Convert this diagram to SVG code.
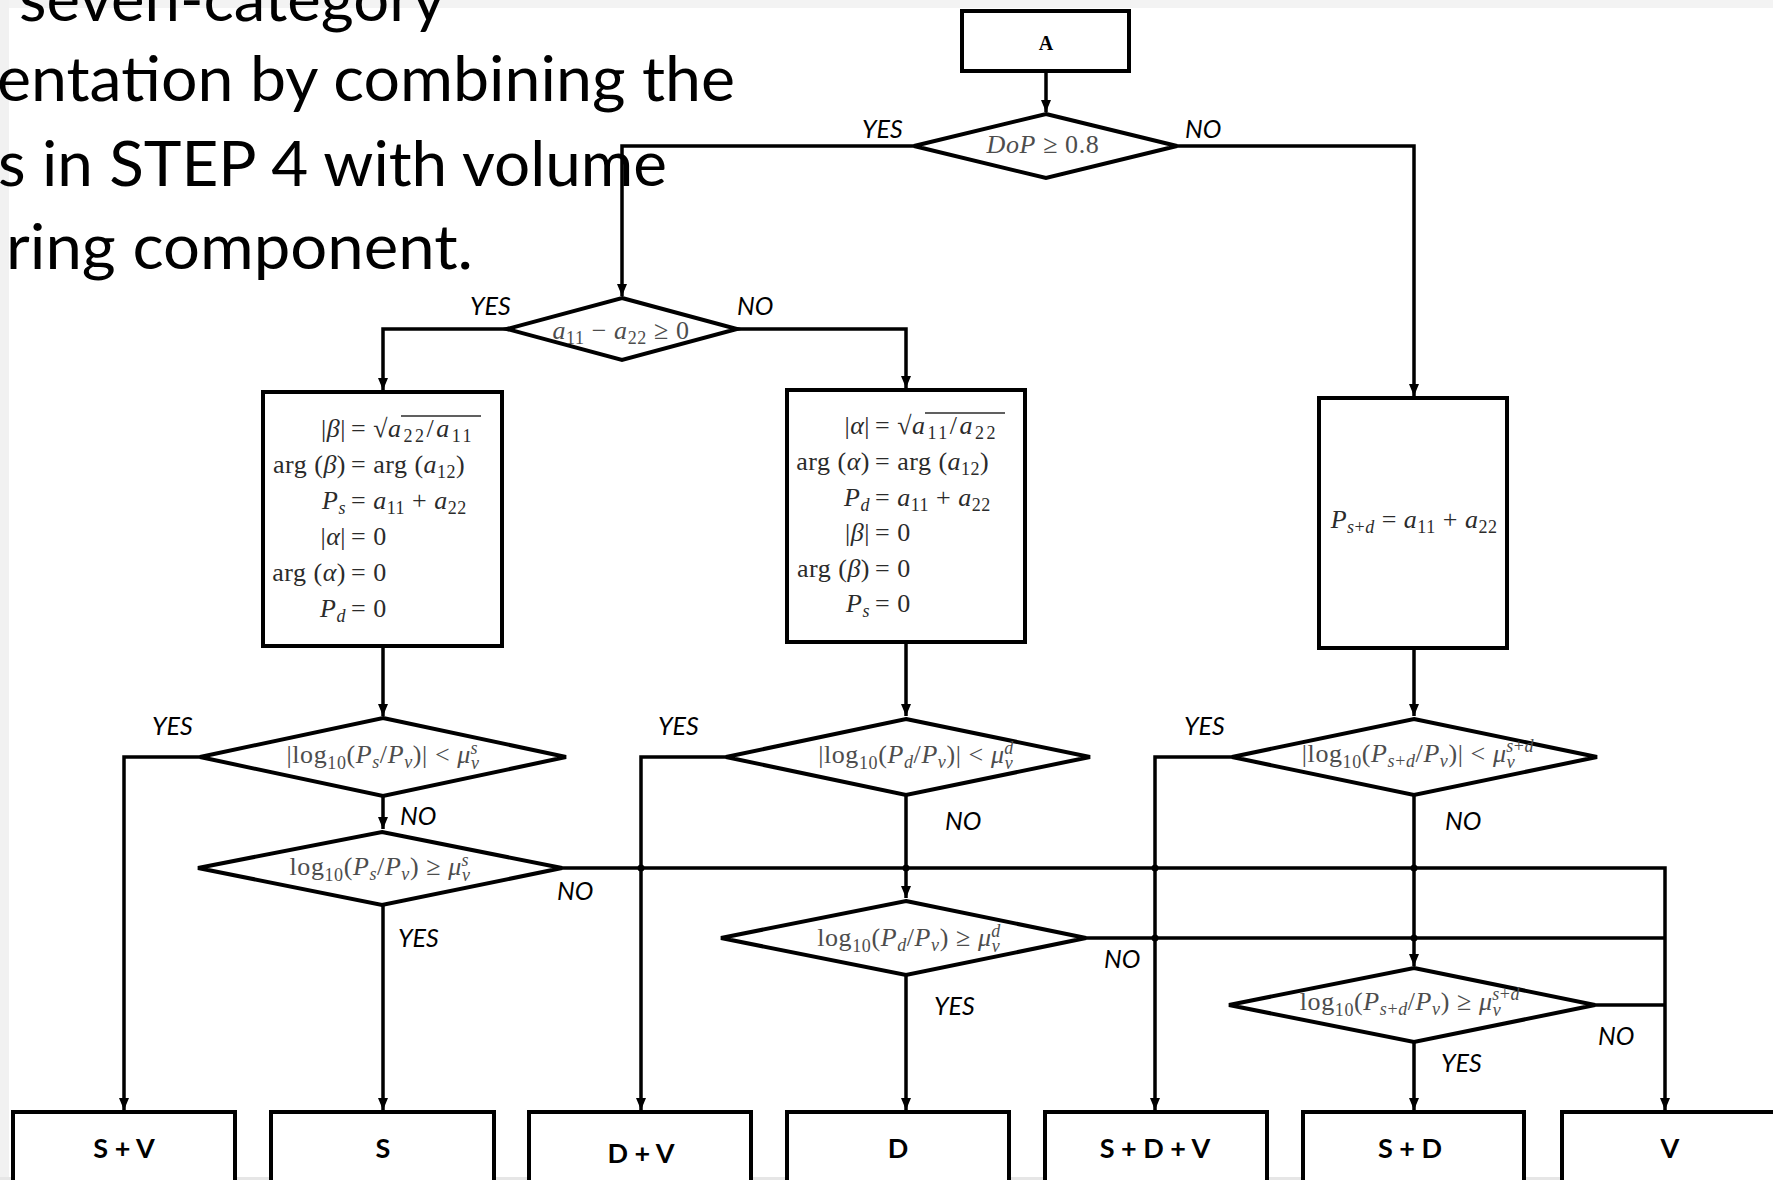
<svg xmlns="http://www.w3.org/2000/svg" width="1773" height="1180" viewBox="0 0 1773 1180">
<style>
.hd{font-family:Lato,"Open Sans",sans-serif;font-size:62px;fill:#000}
.box{fill:#fff;stroke:#000;stroke-width:4}
.dia{fill:#fff;stroke:#000;stroke-width:4;stroke-linejoin:miter}
.ln{fill:none;stroke:#000;stroke-width:3.5}
.ar{fill:none;stroke:#000;stroke-width:3.5;marker-end:url(#ah)}
.lab{font-family:Lato,"Open Sans",sans-serif;font-style:italic;font-size:25px;fill:#000}
.bl{font-family:Lato,"Open Sans",sans-serif;font-weight:bold;font-size:27px;fill:#000;text-anchor:middle}
.m{font-family:"Liberation Serif","Times New Roman",serif;font-size:26px;fill:#2b2b2b;letter-spacing:0.5px}
.md{font-family:"Liberation Serif","Times New Roman",serif;font-size:26px;fill:#4d4d4d;letter-spacing:0.6px}
.i{font-style:italic}
.sb{font-size:18px}
.dot{fill:#000}
</style>
<defs>
<marker id="ah" markerWidth="12" markerHeight="10" refX="12" refY="5" orient="auto" markerUnits="userSpaceOnUse">
<path d="M0,0 L12,5 L0,10 z" fill="#000"/>
</marker>
</defs>
<rect x="0" y="0" width="1773" height="1180" fill="#fff"/>
<rect x="0" y="0" width="1773" height="8" fill="#f3f3f3"/>
<rect x="0" y="0" width="9" height="1180" fill="#f1f1f1"/>
<rect x="0" y="1177" width="1773" height="3" fill="#e6e6e6"/>

<g id="header">
<text class="hd" x="19" y="21" textLength="426" lengthAdjust="spacingAndGlyphs">seven-category</text>
<text class="hd" x="-3" y="101" textLength="738" lengthAdjust="spacingAndGlyphs">entation by combining the</text>
<text class="hd" x="-2" y="186" textLength="669" lengthAdjust="spacingAndGlyphs">s in STEP 4 with volume</text>
<text class="hd" x="6" y="269" textLength="467" lengthAdjust="spacingAndGlyphs">ring component.</text>
</g>

<g id="connectors">
<path class="ar" d="M1046,71 V112"/>
<path class="ar" d="M914,146 H622 V296"/>
<path class="ar" d="M1177,146 H1414 V396"/>
<path class="ar" d="M507,329 H383 V390"/>
<path class="ar" d="M737,329 H906 V388"/>
<path class="ar" d="M383,646 V716"/>
<path class="ar" d="M906,642 V716"/>
<path class="ar" d="M1414,648 V716"/>
<path class="ar" d="M200,757 H124 V1110"/>
<path class="ar" d="M383,796 V829"/>
<path class="ar" d="M383,905 V1110"/>
<path class="ar" d="M562,868 H1665 V1110"/>
<path class="ar" d="M726,757 H641 V1110"/>
<path class="ar" d="M906,795 V898"/>
<path class="ar" d="M906,975 V1110"/>
<path class="ln" d="M1086,938 H1665"/>
<path class="ar" d="M1232,757 H1155 V1110"/>
<path class="ar" d="M1414,795 V966"/>
<path class="ln" d="M1595,1005 H1665"/>
<path class="ar" d="M1414,1042 V1110"/>
<circle class="dot" cx="641" cy="868" r="3.5"/>
<circle class="dot" cx="906" cy="868" r="3.5"/>
<circle class="dot" cx="1155" cy="868" r="3.5"/>
<circle class="dot" cx="1414" cy="868" r="3.5"/>
<circle class="dot" cx="1155" cy="938" r="3.5"/>
<circle class="dot" cx="1414" cy="938" r="3.5"/>
</g>

<g id="nodeA">
<rect class="box" x="962" y="11" width="167" height="60"/>
<text x="1046" y="50" text-anchor="middle" font-family="Liberation Serif, serif" font-weight="bold" font-size="20">A</text>
</g>

<g id="dop">
<polygon class="dia" points="1046,114 1177,146 1046,178 914,146"/>
<text class="md" x="1043" y="153" text-anchor="middle"><tspan class="i">DoP</tspan> ≥ 0.8</text>
<text class="lab" x="862" y="138">YES</text>
<text class="lab" x="1185" y="138">NO</text>
</g>

<g id="d2">
<polygon class="dia" points="622,298 737,329 622,360 507,329"/>
<text class="md" x="621" y="339" text-anchor="middle"><tspan class="i">a</tspan><tspan class="sb" dy="5">11</tspan><tspan dy="-5"> − </tspan><tspan class="i">a</tspan><tspan class="sb" dy="5">22</tspan><tspan dy="-5"> ≥ 0</tspan></text>
<text class="lab" x="470" y="315">YES</text>
<text class="lab" x="737" y="315">NO</text>
</g>

<g id="boxS">
<rect class="box" x="263" y="392" width="239" height="254"/>
<text class="m" y="437"><tspan x="346" text-anchor="end">|<tspan class="i">β</tspan>|</tspan><tspan x="351">= √<tspan letter-spacing="2.5"><tspan class="i">a</tspan><tspan class="sb" dy="5">22</tspan><tspan dy="-5">/</tspan><tspan class="i">a</tspan><tspan class="sb" dy="5">11</tspan></tspan></tspan></text>
<line x1="401" y1="416" x2="481" y2="416" stroke="#2b2b2b" stroke-width="1.3"/>
<text class="m" y="473"><tspan x="346" text-anchor="end">arg (<tspan class="i">β</tspan>)</tspan><tspan x="351">= arg (<tspan class="i">a</tspan><tspan class="sb" dy="5">12</tspan><tspan dy="-5">)</tspan></tspan></text>
<text class="m" y="509"><tspan x="346" text-anchor="end"><tspan class="i">P</tspan><tspan class="sb i" dy="5">s</tspan></tspan><tspan x="351" dy="-5">= <tspan class="i">a</tspan><tspan class="sb" dy="5">11</tspan><tspan dy="-5"> + </tspan><tspan class="i">a</tspan><tspan class="sb" dy="5">22</tspan></tspan></text>
<text class="m" y="545"><tspan x="346" text-anchor="end">|<tspan class="i">α</tspan>|</tspan><tspan x="351">= 0</tspan></text>
<text class="m" y="581"><tspan x="346" text-anchor="end">arg (<tspan class="i">α</tspan>)</tspan><tspan x="351">= 0</tspan></text>
<text class="m" y="617"><tspan x="346" text-anchor="end"><tspan class="i">P</tspan><tspan class="sb i" dy="5">d</tspan></tspan><tspan x="351" dy="-5">= 0</tspan></text>
</g>

<g id="boxD">
<rect class="box" x="787" y="390" width="238" height="252"/>
<text class="m" y="434"><tspan x="870" text-anchor="end">|<tspan class="i">α</tspan>|</tspan><tspan x="875">= √<tspan letter-spacing="2.5"><tspan class="i">a</tspan><tspan class="sb" dy="5">11</tspan><tspan dy="-5">/</tspan><tspan class="i">a</tspan><tspan class="sb" dy="5">22</tspan></tspan></tspan></text>
<line x1="925" y1="413" x2="1005" y2="413" stroke="#2b2b2b" stroke-width="1.3"/>
<text class="m" y="470"><tspan x="870" text-anchor="end">arg (<tspan class="i">α</tspan>)</tspan><tspan x="875">= arg (<tspan class="i">a</tspan><tspan class="sb" dy="5">12</tspan><tspan dy="-5">)</tspan></tspan></text>
<text class="m" y="506"><tspan x="870" text-anchor="end"><tspan class="i">P</tspan><tspan class="sb i" dy="5">d</tspan></tspan><tspan x="875" dy="-5">= <tspan class="i">a</tspan><tspan class="sb" dy="5">11</tspan><tspan dy="-5"> + </tspan><tspan class="i">a</tspan><tspan class="sb" dy="5">22</tspan></tspan></text>
<text class="m" y="541"><tspan x="870" text-anchor="end">|<tspan class="i">β</tspan>|</tspan><tspan x="875">= 0</tspan></text>
<text class="m" y="577"><tspan x="870" text-anchor="end">arg (<tspan class="i">β</tspan>)</tspan><tspan x="875">= 0</tspan></text>
<text class="m" y="612"><tspan x="870" text-anchor="end"><tspan class="i">P</tspan><tspan class="sb i" dy="5">s</tspan></tspan><tspan x="875" dy="-5">= 0</tspan></text>
</g>

<g id="boxSD">
<rect class="box" x="1319" y="398" width="188" height="250"/>
<text class="m" x="1414" y="528" text-anchor="middle"><tspan class="i">P</tspan><tspan class="sb" dy="5"><tspan class="i">s</tspan>+<tspan class="i">d</tspan></tspan><tspan dy="-5"> = </tspan><tspan class="i">a</tspan><tspan class="sb" dy="5">11</tspan><tspan dy="-5"> + </tspan><tspan class="i">a</tspan><tspan class="sb" dy="5">22</tspan></text>
</g>

<g id="d3">
<polygon class="dia" points="383,718 566,757 383,796 200,757"/>
<text class="md" x="383" y="763" text-anchor="middle">|log<tspan class="sb" dy="6">10</tspan><tspan dy="-6">(</tspan><tspan class="i">P</tspan><tspan class="sb i" dy="5">s</tspan><tspan dy="-5">/</tspan><tspan class="i">P</tspan><tspan class="sb i" dy="5">v</tspan><tspan dy="-5">)| &lt; </tspan><tspan class="i">μ</tspan><tspan class="sb i" dy="6">v</tspan><tspan class="sb i" dx="-9" dy="-15">s</tspan></text>
<text class="lab" x="152" y="735">YES</text>
<text class="lab" x="400" y="825">NO</text>
</g>

<g id="d4">
<polygon class="dia" points="382,832 562,868 382,905 198,868"/>
<text class="md" x="380" y="875" text-anchor="middle">log<tspan class="sb" dy="6">10</tspan><tspan dy="-6">(</tspan><tspan class="i">P</tspan><tspan class="sb i" dy="5">s</tspan><tspan dy="-5">/</tspan><tspan class="i">P</tspan><tspan class="sb i" dy="5">v</tspan><tspan dy="-5">) ≥ </tspan><tspan class="i">μ</tspan><tspan class="sb i" dy="6">v</tspan><tspan class="sb i" dx="-9" dy="-15">s</tspan></text>
<text class="lab" x="557" y="900">NO</text>
<text class="lab" x="398" y="947">YES</text>
</g>

<g id="d5">
<polygon class="dia" points="906,719 1090,757 906,795 726,757"/>
<text class="md" x="916" y="763" text-anchor="middle">|log<tspan class="sb" dy="6">10</tspan><tspan dy="-6">(</tspan><tspan class="i">P</tspan><tspan class="sb i" dy="5">d</tspan><tspan dy="-5">/</tspan><tspan class="i">P</tspan><tspan class="sb i" dy="5">v</tspan><tspan dy="-5">)| &lt; </tspan><tspan class="i">μ</tspan><tspan class="sb i" dy="6">v</tspan><tspan class="sb i" dx="-9" dy="-15">d</tspan></text>
<text class="lab" x="658" y="735">YES</text>
<text class="lab" x="945" y="830">NO</text>
</g>

<g id="d6">
<polygon class="dia" points="906,901 1086,938 906,975 721,938"/>
<text class="md" x="909" y="946" text-anchor="middle">log<tspan class="sb" dy="6">10</tspan><tspan dy="-6">(</tspan><tspan class="i">P</tspan><tspan class="sb i" dy="5">d</tspan><tspan dy="-5">/</tspan><tspan class="i">P</tspan><tspan class="sb i" dy="5">v</tspan><tspan dy="-5">) ≥ </tspan><tspan class="i">μ</tspan><tspan class="sb i" dy="6">v</tspan><tspan class="sb i" dx="-9" dy="-15">d</tspan></text>
<text class="lab" x="1104" y="968">NO</text>
<text class="lab" x="934" y="1015">YES</text>
</g>

<g id="d7">
<polygon class="dia" points="1414,719 1597,757 1414,795 1232,757"/>
<text class="md" x="1418" y="762" text-anchor="middle">|log<tspan class="sb" dy="6">10</tspan><tspan dy="-6">(</tspan><tspan class="i">P</tspan><tspan class="sb" dy="5"><tspan class="i">s</tspan>+<tspan class="i">d</tspan></tspan><tspan dy="-5">/</tspan><tspan class="i">P</tspan><tspan class="sb i" dy="5">v</tspan><tspan dy="-5">)| &lt; </tspan><tspan class="i">μ</tspan><tspan class="sb i" dy="6">v</tspan><tspan class="sb" dx="-9" dy="-16"><tspan class="i">s</tspan>+<tspan class="i">d</tspan></tspan></text>
<text class="lab" x="1184" y="735">YES</text>
<text class="lab" x="1445" y="830">NO</text>
</g>

<g id="d8">
<polygon class="dia" points="1414,968 1595,1005 1414,1042 1229,1005"/>
<text class="md" x="1410" y="1010" text-anchor="middle">log<tspan class="sb" dy="6">10</tspan><tspan dy="-6">(</tspan><tspan class="i">P</tspan><tspan class="sb" dy="5"><tspan class="i">s</tspan>+<tspan class="i">d</tspan></tspan><tspan dy="-5">/</tspan><tspan class="i">P</tspan><tspan class="sb i" dy="5">v</tspan><tspan dy="-5">) ≥ </tspan><tspan class="i">μ</tspan><tspan class="sb i" dy="6">v</tspan><tspan class="sb" dx="-9" dy="-16"><tspan class="i">s</tspan>+<tspan class="i">d</tspan></tspan></text>
<text class="lab" x="1598" y="1045">NO</text>
<text class="lab" x="1441" y="1072">YES</text>
</g>

<g id="outSV"><rect class="box" x="13" y="1112" width="222" height="85"/><text class="bl" x="124" y="1158">S + V</text></g>
<g id="outS"><rect class="box" x="271" y="1112" width="223" height="85"/><text class="bl" x="383" y="1158">S</text></g>
<g id="outDV"><rect class="box" x="529" y="1112" width="222" height="85"/><text class="bl" x="641" y="1163">D + V</text></g>
<g id="outD"><rect class="box" x="787" y="1112" width="222" height="85"/><text class="bl" x="898" y="1158">D</text></g>
<g id="outSDV"><rect class="box" x="1045" y="1112" width="222" height="85"/><text class="bl" x="1155" y="1158">S + D + V</text></g>
<g id="outSD"><rect class="box" x="1303" y="1112" width="221" height="85"/><text class="bl" x="1410" y="1158">S + D</text></g>
<g id="outV"><rect class="box" x="1562" y="1112" width="222" height="85"/><text class="bl" x="1670" y="1158">V</text></g>
</svg>
